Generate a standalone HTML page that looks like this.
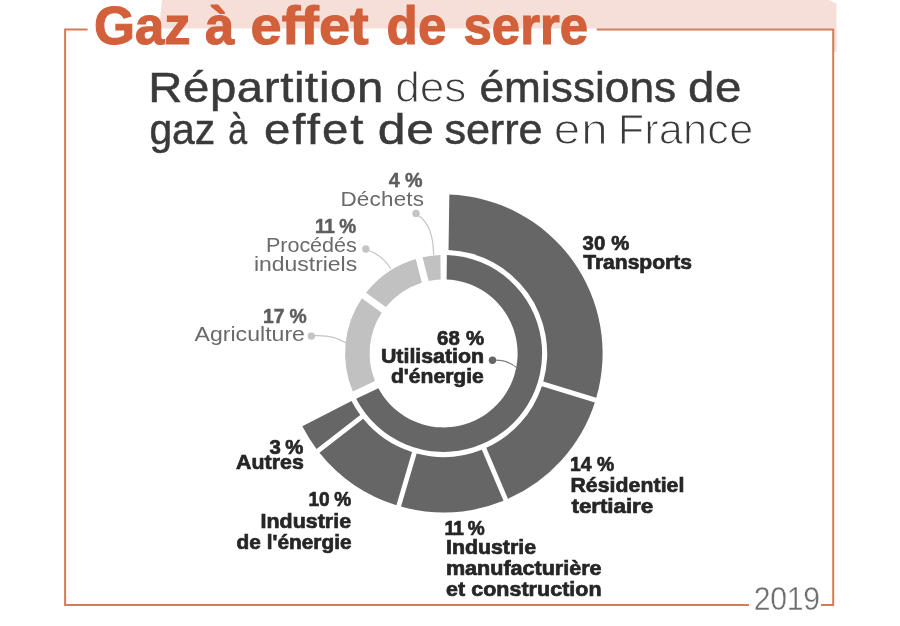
<!DOCTYPE html>
<html><head><meta charset="utf-8"><title>Gaz à effet de serre</title>
<style>
html,body{margin:0;padding:0;background:#fff;}
body{width:900px;height:626px;overflow:hidden;}
svg{display:block;will-change:transform;font-family:"Liberation Sans",Arial,sans-serif;}
</style></head><body>
<svg width="900" height="626" viewBox="0 0 900 626">

<polygon points="162,0 829,0 836.5,3.5 836.5,52 834,52 834,28.5 159,28.5" fill="#f6dfd8"/>
<path d="M87.6,29.4 H65.1 V605 H749" fill="none" stroke="#d67a5b" stroke-width="2"/>
<path d="M596.7,29.4 H833.2 V605 H821" fill="none" stroke="#d67a5b" stroke-width="2"/>

<path d="M449.33,194.50A159.0,159.0 0 0 1 596.26,397.85L543.30,381.56A103.6,103.6 0 0 0 448.52,249.92Z" fill="#666666"/>
<path d="M594.85,402.44A159.0,159.0 0 0 1 507.93,498.81L486.28,447.80A103.6,103.6 0 0 0 541.89,386.15Z" fill="#666666"/>
<path d="M503.51,500.68A159.0,159.0 0 0 1 401.02,506.59L416.66,453.44A103.6,103.6 0 0 0 481.86,449.68Z" fill="#666666"/>
<path d="M396.41,505.24A159.0,159.0 0 0 1 319.45,452.74L363.23,418.78A103.6,103.6 0 0 0 412.05,452.08Z" fill="#666666"/>
<path d="M316.51,448.94A159.0,159.0 0 0 1 302.31,426.33L351.54,400.92A103.6,103.6 0 0 0 360.29,414.98Z" fill="#666666"/>
<path d="M446.90,254.96A98.5,98.5 0 1 1 356.17,398.77L378.38,388.37A74.0,74.0 0 1 0 446.60,279.46Z" fill="#666666"/>
<path d="M352.78,391.53A98.5,98.5 0 0 1 361.90,298.37L381.74,312.78A74.0,74.0 0 0 0 374.99,381.12Z" fill="#c1c1c1"/>
<path d="M366.02,292.71A98.5,98.5 0 0 1 415.73,258.93L421.83,282.68A74.0,74.0 0 0 0 385.86,307.12Z" fill="#c1c1c1"/>
<path d="M422.51,257.18A98.5,98.5 0 0 1 440.39,254.95L440.70,279.46A74.0,74.0 0 0 0 428.61,280.93Z" fill="#c1c1c1"/>

<path d="M315,335.6 C330,335.2 338,338 346.5,343.2" fill="none" stroke="#c4c4c4" stroke-width="1.2"/>
<circle cx="311.4" cy="336.1" r="3.7" fill="#c4c4c4"/>
<path d="M369,250.5 C378,254 386,261 391,269" fill="none" stroke="#c4c4c4" stroke-width="1.2"/>
<circle cx="365.8" cy="249" r="3.7" fill="#c4c4c4"/>
<path d="M418.5,215.5 C428,222 433.5,235 433.6,255" fill="none" stroke="#c4c4c4" stroke-width="1.2"/>
<circle cx="416" cy="213.4" r="3.7" fill="#c4c4c4"/>
<path d="M495.5,360.2 C504,360.2 512,363 517.6,368.6" fill="none" stroke="#7a7a7a" stroke-width="1.2"/>
<circle cx="492.5" cy="360.2" r="3.7" fill="#666666"/>

<text transform="translate(94.01,44.4) scale(0.9947,1)" font-size="53" font-weight="700" fill="#d2603a" stroke="#d2603a" stroke-width="1.1" textLength="97.20" lengthAdjust="spacing">Gaz</text>
<text transform="translate(205.00,44.4) scale(0.9966,1)" font-size="53" font-weight="700" fill="#d2603a" stroke="#d2603a" stroke-width="1.1" textLength="25.07" lengthAdjust="spacing">à</text>
<text transform="translate(250.55,44.4) scale(1.0550,1)" font-size="53" font-weight="700" fill="#d2603a" stroke="#d2603a" stroke-width="1.1" textLength="112.00" lengthAdjust="spacing">effet</text>
<text transform="translate(386.54,44.4) scale(0.9633,1)" font-size="53" font-weight="700" fill="#d2603a" stroke="#d2603a" stroke-width="1.1" textLength="62.07" lengthAdjust="spacing">de</text>
<text transform="translate(463.54,44.4) scale(0.9594,1)" font-size="53" font-weight="700" fill="#d2603a" stroke="#d2603a" stroke-width="1.1" textLength="129.90" lengthAdjust="spacing">serre</text>
<text transform="translate(148.20,101.9) scale(1.1000,1)" font-size="43" font-weight="400" fill="#3a3a3a" stroke="#3a3a3a" stroke-width="0.5" textLength="213.72" lengthAdjust="spacing">Répartition</text>
<text transform="translate(395.14,101.9) scale(1.0292,1)" font-size="43" font-weight="400" fill="#3a3a3a" stroke="#fff" stroke-width="1.2" textLength="69.25" lengthAdjust="spacing">des</text>
<text transform="translate(479.47,101.9) scale(1.0291,1)" font-size="43" font-weight="400" fill="#3a3a3a" stroke="#3a3a3a" stroke-width="0.5" textLength="191.17" lengthAdjust="spacing">émissions</text>
<text transform="translate(687.90,101.9) scale(1.1022,1)" font-size="43" font-weight="400" fill="#3a3a3a" stroke="#3a3a3a" stroke-width="0.5" textLength="48.57" lengthAdjust="spacing">de</text>
<text transform="translate(149.45,144.4) scale(0.9507,1)" font-size="43" font-weight="400" fill="#3a3a3a" stroke="#3a3a3a" stroke-width="0.5" textLength="69.03" lengthAdjust="spacing">gaz</text>
<text transform="translate(228.21,144.4) scale(0.7875,1)" font-size="43" font-weight="400" fill="#3a3a3a" stroke="#3a3a3a" stroke-width="0.5" textLength="25.95" lengthAdjust="spacing">à</text>
<text transform="translate(263.90,144.4) scale(1.1000,1)" font-size="43" font-weight="400" fill="#3a3a3a" stroke="#3a3a3a" stroke-width="0.5" textLength="90.53" lengthAdjust="spacing">effet</text>
<text transform="translate(377.84,144.4) scale(1.1609,1)" font-size="43" font-weight="400" fill="#3a3a3a" stroke="#3a3a3a" stroke-width="0.5" textLength="48.36" lengthAdjust="spacing">de</text>
<text transform="translate(444.49,144.4) scale(1.0062,1)" font-size="43" font-weight="400" fill="#3a3a3a" stroke="#3a3a3a" stroke-width="0.5" textLength="97.37" lengthAdjust="spacing">serre</text>
<text transform="translate(553.79,144.4) scale(1.1047,1)" font-size="43" font-weight="400" fill="#3a3a3a" stroke="#fff" stroke-width="1.2" textLength="48.75" lengthAdjust="spacing">en</text>
<text transform="translate(617.67,144.4) scale(1.0070,1)" font-size="43" font-weight="400" fill="#3a3a3a" stroke="#fff" stroke-width="1.2" textLength="134.64" lengthAdjust="spacing">France</text>
<text transform="translate(582.50,250.0) scale(0.9915,1)" font-size="20.5" font-weight="700" fill="#262626" stroke="#262626" stroke-width="0.7" textLength="47.14" lengthAdjust="spacing">30 %</text>
<text transform="translate(583.20,269.3) scale(1.0274,1)" font-size="20.5" font-weight="700" fill="#262626" stroke="#262626" stroke-width="0.7" textLength="105.86" lengthAdjust="spacing">Transports</text>
<text transform="translate(570.06,470.9) scale(0.9413,1)" font-size="20.5" font-weight="700" fill="#262626" stroke="#262626" stroke-width="0.7" textLength="46.95" lengthAdjust="spacing">14 %</text>
<text transform="translate(570.46,491.9) scale(1.0361,1)" font-size="20.5" font-weight="700" fill="#262626" stroke="#262626" stroke-width="0.7" textLength="109.95" lengthAdjust="spacing">Résidentiel</text>
<text transform="translate(571.50,512.8) scale(1.0973,1)" font-size="20.5" font-weight="700" fill="#262626" stroke="#262626" stroke-width="0.7" textLength="74.49" lengthAdjust="spacing">tertiaire</text>
<text transform="translate(444.57,534.8) scale(0.9300,1)" font-size="20.5" font-weight="700" fill="#262626" stroke="#262626" stroke-width="0.7" textLength="43.05" lengthAdjust="spacing">11 %</text>
<text transform="translate(445.96,554.3) scale(1.0430,1)" font-size="20.5" font-weight="700" fill="#262626" stroke="#262626" stroke-width="0.7" textLength="86.39" lengthAdjust="spacing">Industrie</text>
<text transform="translate(445.95,575.2) scale(1.0537,1)" font-size="20.5" font-weight="700" fill="#262626" stroke="#262626" stroke-width="0.7" textLength="147.73" lengthAdjust="spacing">manufacturière</text>
<text transform="translate(446.00,596.2) scale(1.0466,1)" font-size="20.5" font-weight="700" fill="#262626" stroke="#262626" stroke-width="0.7" textLength="148.65" lengthAdjust="spacing">et construction</text>
<text transform="translate(269.50,454.0) scale(0.9914,1)" font-size="20.5" font-weight="700" fill="#262626" stroke="#262626" stroke-width="0.7" textLength="34.12" lengthAdjust="spacing">3 %</text>
<text transform="translate(236.00,469.1) scale(1.0400,1)" font-size="20.5" font-weight="700" fill="#262626" stroke="#262626" stroke-width="0.7" textLength="65.32" lengthAdjust="spacing">Autres</text>
<text transform="translate(308.57,506.4) scale(0.9300,1)" font-size="20.5" font-weight="700" fill="#262626" stroke="#262626" stroke-width="0.7" textLength="45.89" lengthAdjust="spacing">10 %</text>
<text transform="translate(260.46,527.6) scale(1.0442,1)" font-size="20.5" font-weight="700" fill="#262626" stroke="#262626" stroke-width="0.7" textLength="86.77" lengthAdjust="spacing">Industrie</text>
<text transform="translate(236.50,548.6) scale(1.0159,1)" font-size="20.5" font-weight="700" fill="#262626" stroke="#262626" stroke-width="0.7" textLength="113.32" lengthAdjust="spacing">de l'énergie</text>
<text transform="translate(437.00,345.0) scale(0.9936,1)" font-size="20.5" font-weight="700" fill="#262626" stroke="#262626" stroke-width="0.7" textLength="47.54" lengthAdjust="spacing">68 %</text>
<text transform="translate(380.96,362.7) scale(1.0429,1)" font-size="20.5" font-weight="700" fill="#262626" stroke="#262626" stroke-width="0.7" textLength="98.90" lengthAdjust="spacing">Utilisation</text>
<text transform="translate(391.00,383.1) scale(1.0300,1)" font-size="20.5" font-weight="700" fill="#262626" stroke="#262626" stroke-width="0.7" textLength="90.13" lengthAdjust="spacing">d'énergie</text>
<text transform="translate(263.06,323.3) scale(0.9435,1)" font-size="20.5" font-weight="700" fill="#5e5e5e" stroke="#5e5e5e" stroke-width="0.5" textLength="46.31" lengthAdjust="spacing">17 %</text>
<text transform="translate(194.50,340.7) scale(1.0980,1)" font-size="21" font-weight="400" fill="#6a6a6a" textLength="100.57" lengthAdjust="spacing">Agriculture</text>
<text transform="translate(315.07,232.5) scale(0.9300,1)" font-size="20.5" font-weight="700" fill="#5e5e5e" stroke="#5e5e5e" stroke-width="0.5" textLength="44.25" lengthAdjust="spacing">11 %</text>
<text transform="translate(265.97,251.8) scale(1.0276,1)" font-size="21" font-weight="400" fill="#6a6a6a" textLength="88.33" lengthAdjust="spacing">Procédés</text>
<text transform="translate(253.91,270.7) scale(1.0946,1)" font-size="21" font-weight="400" fill="#6a6a6a" textLength="94.36" lengthAdjust="spacing">industriels</text>
<text transform="translate(388.80,187.0) scale(0.9629,1)" font-size="20.5" font-weight="700" fill="#5e5e5e" stroke="#5e5e5e" stroke-width="0.5" textLength="35.02" lengthAdjust="spacing">4 %</text>
<text transform="translate(340.43,205.5) scale(1.0697,1)" font-size="21" font-weight="400" fill="#6a6a6a" textLength="78.17" lengthAdjust="spacing">Déchets</text>
<text transform="translate(753.74,609.8) scale(0.9300,1)" font-size="32.5" font-weight="400" fill="#6e6e6e" stroke="#fff" stroke-width="0.4" textLength="71.25" lengthAdjust="spacing">2019</text>
</svg>
</body></html>
